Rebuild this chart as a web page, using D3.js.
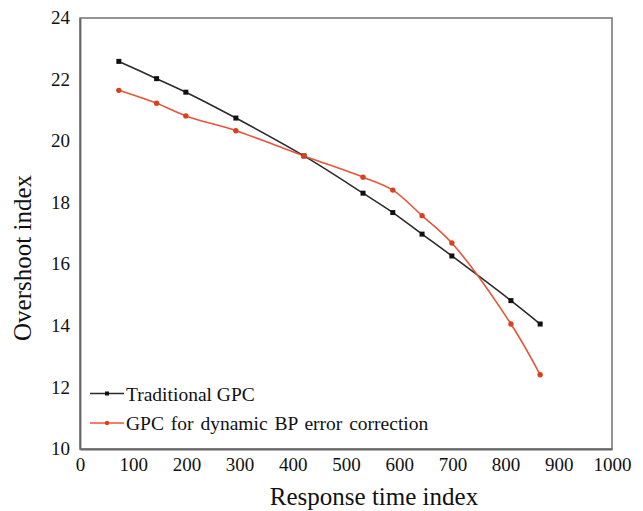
<!DOCTYPE html>
<html><head><meta charset="utf-8">
<script src="https://cdnjs.cloudflare.com/ajax/libs/d3/7.8.5/d3.min.js"></script>
<style>body{margin:0;background:#fff}svg{display:block}text{font-family:"Liberation Serif","Times New Roman",Times,"DejaVu Serif",serif;fill:#111}</style>
</head><body><svg id="c" width="643" height="511"></svg>
<script>
const responseTime = [73, 144, 199, 293, 421, 532, 588, 643, 699, 810, 865];
const traditionalGPC = [22.59, 22.03, 21.59, 20.75, 19.52, 18.31, 17.68, 16.98, 16.27, 14.82, 14.06];
const bpGPC = [21.65, 21.23, 20.82, 20.34, 19.52, 18.83, 18.41, 17.58, 16.69, 14.06, 12.41];
const xTicks = [0,100,200,300,400,500,600,700,800,900,1000];
const yTicks = [10,12,14,16,18,20,22,24];
const seriesNames = ["Traditional GPC", "GPC for dynamic BP error correction"];
const colors = ["#2b2b2b", "#e8553a"];
const FONT = '"Liberation Serif","Times New Roman",Times,"DejaVu Serif",serif';

const svg = d3.select("#c");
const L = 80, R = 612, T = 18, B = 449;
const x = d3.scaleLinear().domain([0,1000]).range([L,R]);
const y = d3.scaleLinear().domain([10,24]).range([B,T]);

svg.append("rect").attr("x",L).attr("y",T).attr("width",R-L).attr("height",B-T)
  .attr("fill","none").attr("stroke","#7a7a7a").attr("stroke-width",1.6);

const xAxis = svg.append("g").attr("transform",`translate(0,${B})`)
  .call(d3.axisBottom(x).tickValues(xTicks).tickFormat(d3.format("d")).tickSize(0).tickPadding(9));
const yAxis = svg.append("g").attr("transform",`translate(${L},0)`)
  .call(d3.axisLeft(y).tickValues(yTicks).tickFormat(d3.format("d")).tickSize(0).tickPadding(10));
[xAxis, yAxis].forEach(g=>{
  g.attr("font-family",FONT).attr("font-size",19);
  g.select(".domain").attr("stroke","#666").attr("stroke-width",1.8);
  g.selectAll("text").attr("fill","#111").style("font-family",FONT);
});
yAxis.selectAll("text").attr("dy","0.3em");

svg.append("text").attr("x",374).attr("y",505).attr("text-anchor","middle")
  .style("font-family",FONT).attr("font-size",25).text("Response time index");
svg.append("text").attr("transform","translate(31,258) rotate(-90)").attr("text-anchor","middle")
  .style("font-family",FONT).attr("font-size",25).text("Overshoot index");

const line = d3.line().x(d=>x(d[0])).y(d=>y(d[1])).curve(d3.curveCatmullRom.alpha(0.5));
const data = [traditionalGPC, bpGPC].map(s => responseTime.map((t,i)=>[t,s[i]]));

data.forEach((pts,k)=>{
  svg.append("path").datum(pts).attr("d",line).attr("fill","none")
    .attr("stroke",colors[k]).attr("stroke-width",1.6);
});
svg.selectAll(".sq").data(data[0]).join("rect")
  .attr("x",d=>x(d[0])-2.5).attr("y",d=>y(d[1])-2.5).attr("width",5).attr("height",5).attr("fill","#111");
svg.selectAll(".ci").data(data[1]).join("circle")
  .attr("cx",d=>x(d[0])).attr("cy",d=>y(d[1])).attr("r",2.7).attr("fill","#d9401f");

const lg = [{y:393.5},{y:423}];
seriesNames.forEach((n,k)=>{
  const ly = lg[k].y;
  svg.append("line").attr("x1",90).attr("x2",124).attr("y1",ly).attr("y2",ly)
    .attr("stroke",colors[k]).attr("stroke-width",1.6);
  if(k===0) svg.append("rect").attr("x",105).attr("y",ly-2).attr("width",4).attr("height",4).attr("fill","#111");
  else svg.append("circle").attr("cx",107).attr("cy",ly).attr("r",2.2).attr("fill","#d9401f");
  svg.append("text").attr("x",126).attr("y",ly+7).style("font-family",FONT).attr("font-size",19.5)
    .attr("word-spacing", k===1 ? 2 : 0).text(n);
});
</script></body></html>
